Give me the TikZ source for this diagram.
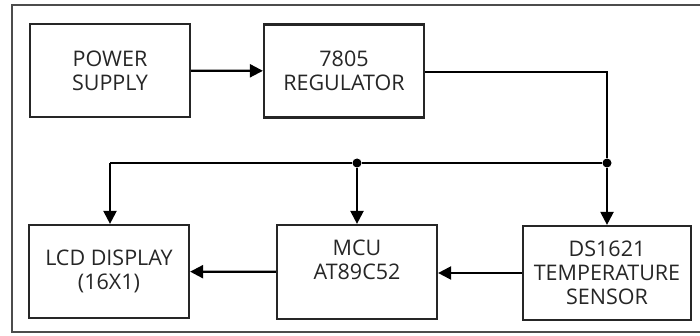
\documentclass[tikz,border=0pt]{standalone}
\usepackage{fontspec}
\setmainfont{Open Sans}
\usetikzlibrary{arrows.meta}
\tikzset{
	% block and junction styles
	block/.style={draw=black!85,line width=2.2pt,minimum width=160pt,minimum height=93pt,align=center,text=black!85,inner sep=0pt},
	dot/.style={circle,fill=black,inner sep=0pt,minimum size=9pt}
}

\begin{document}
\begin{tikzpicture}[x=1pt,y=-1pt,font=\fontsize{21.5}{24}\selectfont,>={Triangle[length=13pt,width=13pt]}]
\useasboundingbox (0,0) rectangle (700,336);
\draw[black!70,line width=2.8pt] (12,5) rectangle (720,332);

% top row
\node[block] (ps) at (110,70.5) {POWER\\SUPPLY};
\node[block] (reg) at (344,71) {7805\\REGULATOR};

% bottom row
\node[block] (lcd) at (109,271.5) {LCD DISPLAY\\(16X1)};
\node[block,minimum height=94pt] (mcu) at (357,272) {MCU\\AT89C52\\~};
\node[block,minimum width=168pt,minimum height=94pt] (sensor) at (607,273) {DS1621\\TEMPERATURE\\SENSOR};

% junctions on the supply rail
\node(j1) at (607,163) [dot] {};
\node(j2) at (357,163) [dot] {};
\coordinate (c1) at (607,72);
\coordinate (c2) at (110,163);

\path[draw,line width=2.2pt] (reg.east |- c1) -- (c1) -- (j1) -- (j2) -- (c2);
\path[->,line width=2.2pt] (ps) edge (reg)
          (j1) edge (sensor)
          (j2) edge (mcu)
          (c2) edge (lcd.north -| c2)
          (sensor.west |- 0,273) edge (mcu.east |- 0,273)
          (mcu) edge (lcd);

\end{tikzpicture}
\end{document}
